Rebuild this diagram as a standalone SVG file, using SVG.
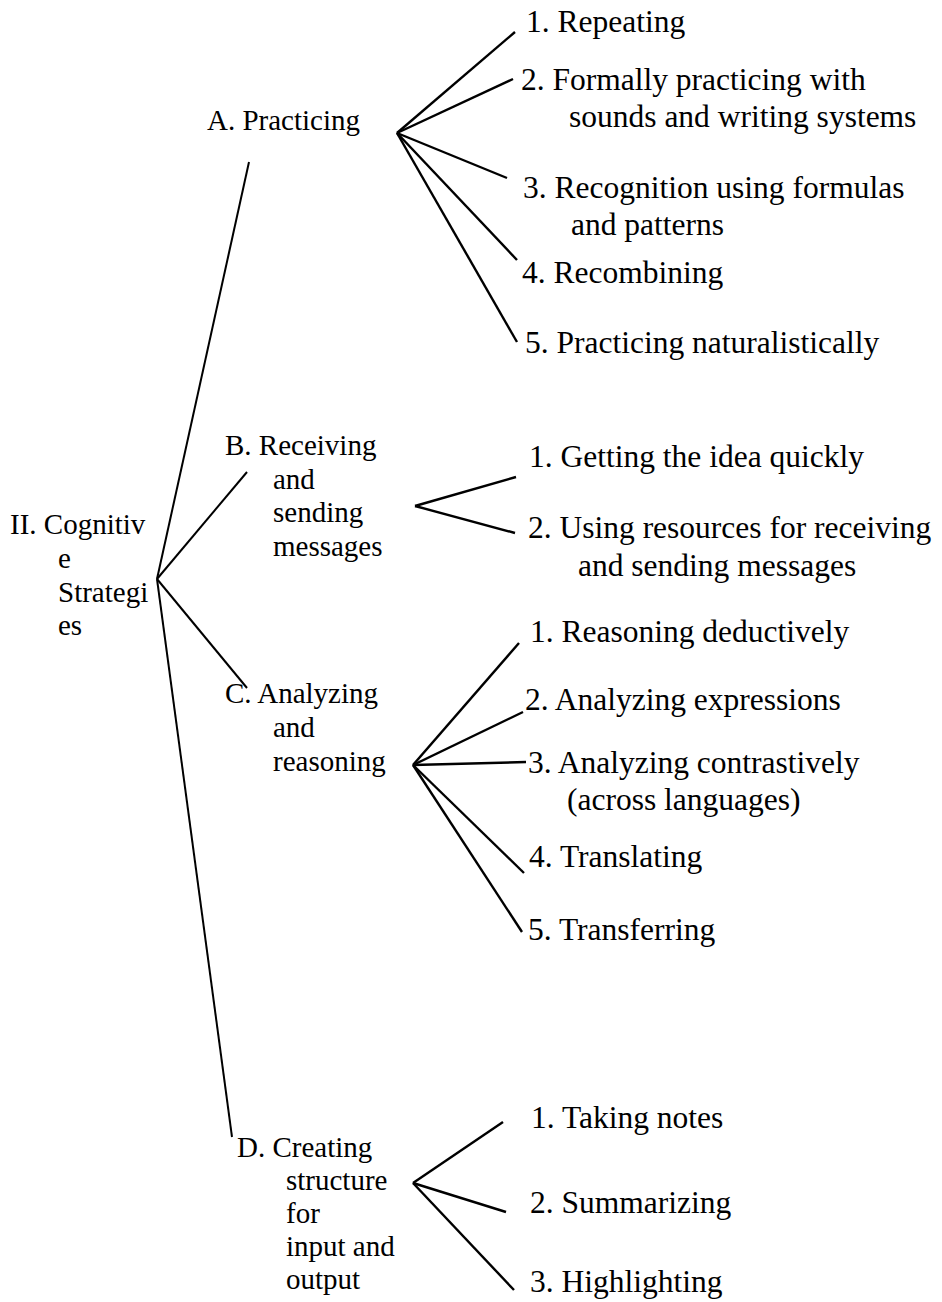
<svg xmlns="http://www.w3.org/2000/svg" width="942" height="1302" viewBox="0 0 942 1302">
<style>
text { font-family: "Liberation Serif", "Times New Roman", serif; fill: #000; }
.br { font-size: 29px; }
.lf { font-size: 31.5px; }
.c line { stroke: #000; stroke-width: 2.4; stroke-linecap: butt; }
.c .r { stroke-width: 2; }
</style>
<rect width="942" height="1302" fill="#fff"/>
<g class="c" id="connectors">
  <line class="r" x1="157" y1="579" x2="249" y2="162"/>
  <line class="r" x1="157" y1="579" x2="247" y2="472"/>
  <line class="r" x1="157" y1="579" x2="247" y2="688"/>
  <line class="r" x1="157" y1="579" x2="232" y2="1137"/>
  <line x1="397" y1="133" x2="515" y2="32"/>
  <line x1="397" y1="133" x2="513" y2="79"/>
  <line x1="397" y1="133" x2="507" y2="178"/>
  <line x1="397" y1="133" x2="517" y2="260"/>
  <line x1="397" y1="133" x2="517" y2="342"/>
  <line x1="415" y1="506" x2="516" y2="477"/>
  <line x1="415" y1="506" x2="515" y2="533"/>
  <line x1="413" y1="765" x2="519" y2="643"/>
  <line x1="413" y1="765" x2="523" y2="712"/>
  <line x1="413" y1="765" x2="526" y2="762"/>
  <line x1="413" y1="765" x2="524" y2="873"/>
  <line x1="413" y1="765" x2="522" y2="932"/>
  <line x1="413" y1="1183" x2="503" y2="1122"/>
  <line x1="413" y1="1183" x2="506" y2="1212"/>
  <line x1="413" y1="1183" x2="514" y2="1290"/>
</g>
<g id="root">
  <text class="br" x="10" y="534">II. Cognitiv</text>
  <text class="br" x="58" y="568">e</text>
  <text class="br" x="58" y="602">Strategi</text>
  <text class="br" x="58" y="635">es</text>
</g>
<g id="A">
  <text class="br" x="207" y="130">A. Practicing</text>
</g>
<g id="A1"><text class="lf" x="526" y="32">1. Repeating</text></g>
<g id="A2">
  <text class="lf" x="521" y="90">2. Formally practicing with</text>
  <text class="lf" x="569" y="127">sounds and writing systems</text>
</g>
<g id="A3">
  <text class="lf" x="523" y="198">3. Recognition using formulas</text>
  <text class="lf" x="571" y="235">and patterns</text>
</g>
<g id="A4"><text class="lf" x="522" y="283">4. Recombining</text></g>
<g id="A5"><text class="lf" x="525" y="353">5. Practicing naturalistically</text></g>
<g id="B">
  <text class="br" x="225" y="455">B. Receiving</text>
  <text class="br" x="273" y="489">and</text>
  <text class="br" x="273" y="522">sending</text>
  <text class="br" x="273" y="556">messages</text>
</g>
<g id="B1"><text class="lf" x="529" y="467">1. Getting the idea quickly</text></g>
<g id="B2">
  <text class="lf" x="528" y="538">2. Using resources for receiving</text>
  <text class="lf" x="578" y="576">and sending messages</text>
</g>
<g id="C">
  <text class="br" x="225" y="703">C. Analyzing</text>
  <text class="br" x="273" y="737">and</text>
  <text class="br" x="273" y="771">reasoning</text>
</g>
<g id="C1"><text class="lf" x="530" y="642">1. Reasoning deductively</text></g>
<g id="C2"><text class="lf" x="525" y="710">2. Analyzing expressions</text></g>
<g id="C3">
  <text class="lf" x="528" y="773">3. Analyzing contrastively</text>
  <text class="lf" x="567" y="810">(across languages)</text>
</g>
<g id="C4"><text class="lf" x="529" y="867">4. Translating</text></g>
<g id="C5"><text class="lf" x="528" y="940">5. Transferring</text></g>
<g id="D">
  <text class="br" x="237" y="1157">D. Creating</text>
  <text class="br" x="286" y="1190">structure</text>
  <text class="br" x="286" y="1223">for</text>
  <text class="br" x="286" y="1256">input and</text>
  <text class="br" x="286" y="1289">output</text>
</g>
<g id="D1"><text class="lf" x="531" y="1128">1. Taking notes</text></g>
<g id="D2"><text class="lf" x="530" y="1213">2. Summarizing</text></g>
<g id="D3"><text class="lf" x="530" y="1292">3. Highlighting</text></g>
</svg>
